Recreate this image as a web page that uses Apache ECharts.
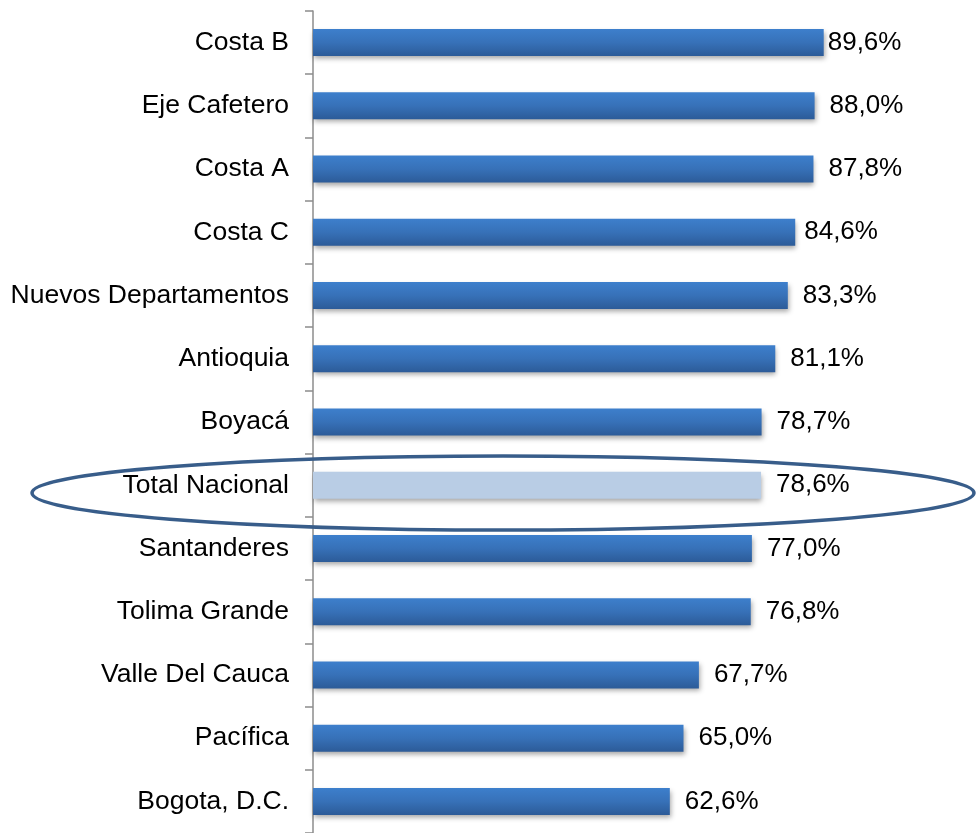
<!DOCTYPE html>
<html>
<head>
<meta charset="utf-8">
<script src="https://cdn.jsdelivr.net/npm/echarts@6/dist/echarts.min.js"></script>
<style>html,body{margin:0;padding:0;background:#fff;}#c{width:977px;height:833px;}</style>
</head>
<body>
<div id="c"></div>
<script>
const categories = ["Costa B","Eje Cafetero","Costa A","Costa C","Nuevos Departamentos","Antioquia","Boyacá","Total Nacional","Santanderes","Tolima Grande","Valle Del Cauca","Pacífica","Bogota, D.C."];
const values = [89.6, 88.0, 87.8, 84.6, 83.3, 81.1, 78.7, 78.6, 77.0, 76.8, 67.7, 65.0, 62.6];
const highlight = "Total Nacional";

const font = "'Liberation Sans', Arial, sans-serif";
const blueGrad = new echarts.graphic.LinearGradient(0, 0, 0, 1, [
  {offset: 0, color: '#3d7fcc'},
  {offset: 0.5, color: '#3771b8'},
  {offset: 1, color: '#2c5b98'}
]);

const data = values.map((v, i) => {
  const item = {value: v};
  if (categories[i] === highlight) {
    item.itemStyle = {color: '#b9cde5'};
  }
  if (i === 0) item.label = {distance: 4};
  if (categories[i] === 'Costa C') item.label = {distance: 9};
  return item;
});

const chart = echarts.init(document.getElementById('c'), null, {renderer: 'canvas'});
chart.setOption({
  animation: false,
  backgroundColor: '#ffffff',
  grid: {left: 313, top: 11, width: 570, height: 827},
  xAxis: {type: 'value', min: 0, max: 100, show: false},
  yAxis: {
    type: 'category',
    data: categories,
    inverse: true,
    axisLine: {show: true, lineStyle: {color: '#8c8c8c', width: 1.5}},
    axisTick: {show: true, length: 8, lineStyle: {color: '#8c8c8c', width: 1.5}},
    axisLabel: {margin: 24, color: '#000', fontSize: 26.5, fontFamily: font, padding: [3, 0, 0, 0]},
    splitLine: {show: false}
  },
  series: [{
    type: 'bar',
    data: data,
    barWidth: 27,
    itemStyle: {
      color: blueGrad,
      shadowColor: 'rgba(0,0,0,0.35)',
      shadowBlur: 5,
      shadowOffsetY: 3,
      shadowOffsetX: 1
    },
    label: {
      show: true,
      position: 'right',
      distance: 15,
      color: '#000',
      fontSize: 26,
      fontFamily: font,
      padding: [3, 0, 0, 0],
      formatter: p => p.value.toFixed(1).replace('.', ',') + '%'
    }
  }],
  graphic: [{
    type: 'ellipse',
    shape: {cx: 503, cy: 493, rx: 471, ry: 37},
    style: {fill: 'none', stroke: '#385d8a', lineWidth: 3.5},
    z: 100
  }]
});
</script>
</body>
</html>
